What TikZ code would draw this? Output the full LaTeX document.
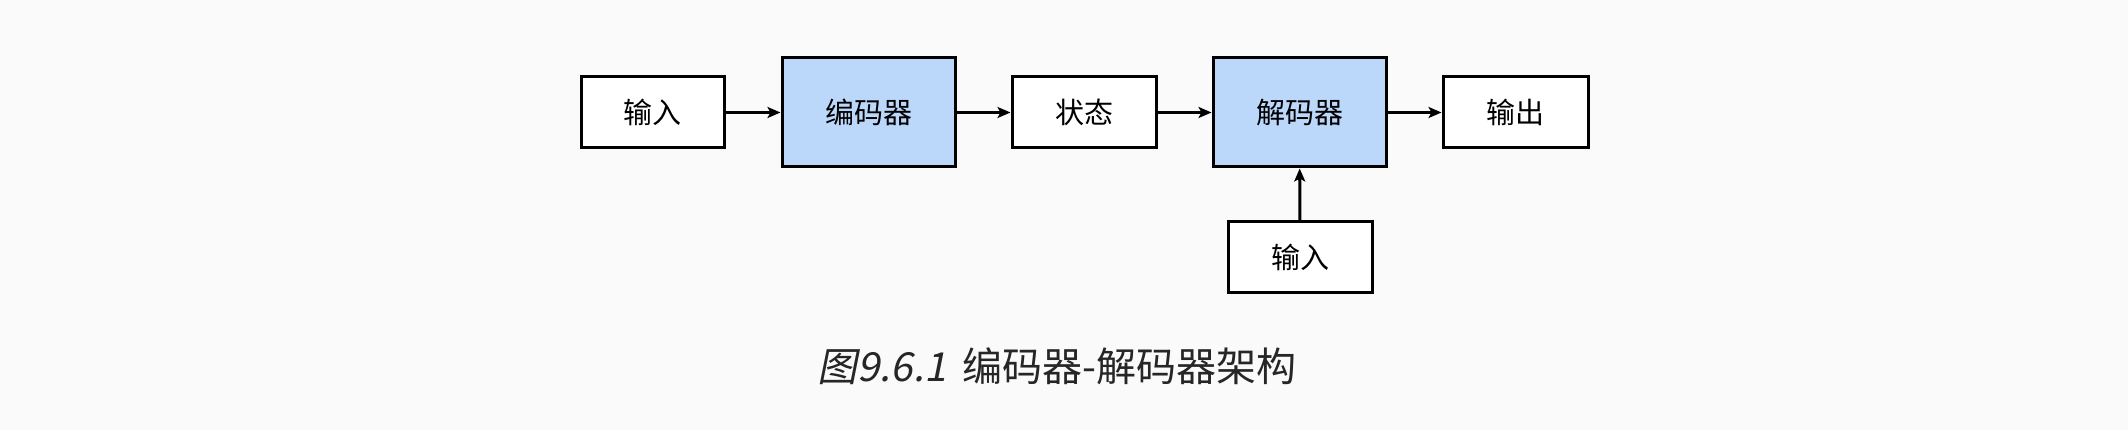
\documentclass[tikz,border=0pt]{standalone}
\usepackage{fontspec}
\setmainfont{Noto Sans CJK SC}
\newfontfamily\cjk{Noto Sans CJK SC}
\newfontfamily\cjkit[FakeSlant=0.2]{Noto Sans CJK SC}
\usetikzlibrary{arrows.meta}
\definecolor{bgc}{RGB}{250,250,250}
\definecolor{blu}{RGB}{187,216,250}
\begin{document}
\begin{tikzpicture}[x=1pt,y=-1pt,
  blk/.style={draw=black,line width=3pt,fill=white,inner sep=0pt,font=\cjk\fontsize{29}{34}\selectfont},
  blkb/.style={blk,fill=blu},
  conn/.style={line width=3pt,-{Stealth[length=13pt,width=11pt,inset=3pt]}}]
\fill[bgc] (0,0) rectangle (2128,430);
\useasboundingbox (0,0) rectangle (2128,430);
\node[blk,minimum width=143pt,minimum height=71pt] (in1) at (652.5,112.5) {输入};
\node[blkb,minimum width=173pt,minimum height=109pt] (enc) at (868.5,112.5) {编码器};
\node[blk,minimum width=144pt,minimum height=71pt] (st) at (1084,112.5) {状态};
\node[blkb,minimum width=173pt,minimum height=109pt] (dec) at (1299.5,112.5) {解码器};
\node[blk,minimum width=145pt,minimum height=71pt] (out) at (1515.5,112.5) {输出};
\node[blk,minimum width=144pt,minimum height=71pt] (in2) at (1300,257.5) {输入};
\draw[conn] (in1) -- (enc);
\draw[conn] (enc) -- (st);
\draw[conn] (st) -- (dec);
\draw[conn] (dec) -- (out);
\draw[conn] (in2) -- (dec);
\node[anchor=center,font=\fontsize{40}{48}\selectfont,text=black!85] (cap) at (1057,366) {{\cjkit 图9.6.1}\hspace{16pt}编码器-解码器架构};
\end{tikzpicture}
\end{document}
